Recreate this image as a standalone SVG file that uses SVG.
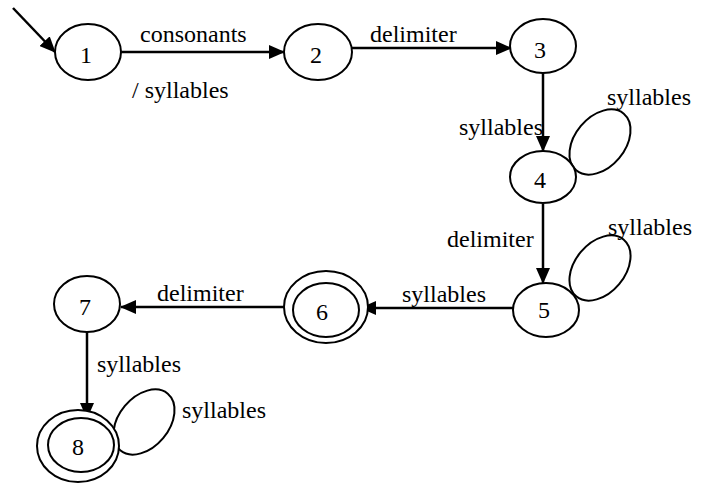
<svg xmlns="http://www.w3.org/2000/svg" width="705" height="483" viewBox="0 0 705 483">
<style>
.n ellipse{fill:#fff;stroke:#000;stroke-width:2}
.lp{fill:none;stroke:#000;stroke-width:2}
text{font-family:"Liberation Serif","Times New Roman",serif;font-size:24px;fill:#000}
.c line{stroke:#000;stroke-width:2.5}
</style>
<defs>
<marker id="ah" markerWidth="16" markerHeight="14" refX="15" refY="7" orient="auto" markerUnits="userSpaceOnUse">
<path d="M0,0 L16,7 L0,14 Z" fill="#000"/>
</marker>
</defs>
<g id="loops">
<ellipse class="lp" cx="600" cy="142" rx="37" ry="25" transform="rotate(-50 600 142)"/>
<ellipse class="lp" cx="600" cy="268" rx="37" ry="25" transform="rotate(-50 600 268)"/>
<ellipse class="lp" cx="144" cy="422" rx="37" ry="25" transform="rotate(-50 144 422)"/>
</g>
<g class="c" id="connectors">
<line x1="13" y1="8" x2="55" y2="52" marker-end="url(#ah)"/>
<line x1="121" y1="52" x2="284" y2="52" marker-end="url(#ah)"/>
<line x1="352" y1="48" x2="511" y2="48" marker-end="url(#ah)"/>
<line x1="543" y1="73" x2="543" y2="151" marker-end="url(#ah)"/>
<line x1="543" y1="204" x2="543" y2="283" marker-end="url(#ah)"/>
<line x1="513" y1="308" x2="361" y2="308" marker-end="url(#ah)"/>
<line x1="284" y1="307" x2="121" y2="307" marker-end="url(#ah)"/>
<line x1="87" y1="332" x2="87" y2="418" marker-end="url(#ah)"/>
</g>
<g class="n" id="n1"><ellipse cx="88" cy="52" rx="33" ry="28"/><text x="86" y="63" text-anchor="middle">1</text></g>
<g class="n" id="n2"><ellipse cx="318" cy="52" rx="34" ry="28"/><text x="316" y="63" text-anchor="middle">2</text></g>
<g class="n" id="n3"><ellipse cx="543" cy="46" rx="33" ry="27"/><text x="540" y="58" text-anchor="middle">3</text></g>
<g class="n" id="n4"><ellipse cx="543" cy="177" rx="33" ry="26"/><text x="540" y="188" text-anchor="middle">4</text></g>
<g class="n" id="n5"><ellipse cx="546" cy="310" rx="33" ry="27"/><text x="544" y="318" text-anchor="middle">5</text></g>
<g class="n" id="n6"><ellipse cx="326" cy="307" rx="42" ry="36"/><ellipse cx="326" cy="310" rx="33" ry="27"/><text x="322" y="320" text-anchor="middle">6</text></g>
<g class="n" id="n7"><ellipse cx="87" cy="304" rx="33" ry="28"/><text x="85" y="315" text-anchor="middle">7</text></g>
<g class="n" id="n8"><ellipse cx="78" cy="446" rx="41" ry="36"/><ellipse cx="81" cy="445" rx="33" ry="27"/><text x="78" y="455" text-anchor="middle">8</text></g>
<g id="labels">
<text x="140" y="42">consonants</text>
<text x="132" y="98">/ syllables</text>
<text x="370" y="42">delimiter</text>
<text x="459" y="135">syllables</text>
<text x="607" y="105">syllables</text>
<text x="447" y="247">delimiter</text>
<text x="608" y="235">syllables</text>
<text x="402" y="302">syllables</text>
<text x="157" y="301">delimiter</text>
<text x="97" y="372">syllables</text>
<text x="182" y="418">syllables</text>
</g>
</svg>
